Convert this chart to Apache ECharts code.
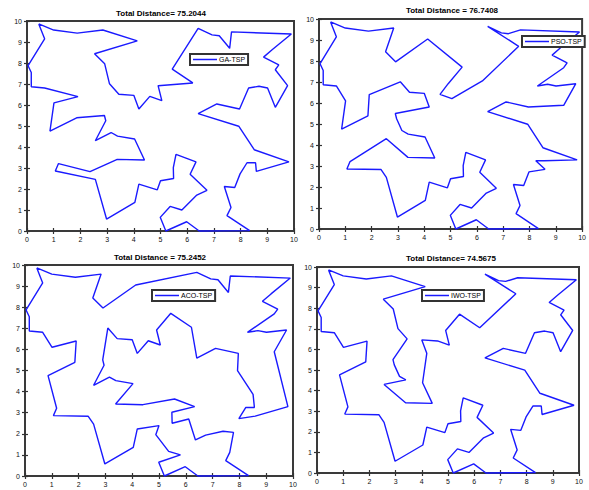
<!DOCTYPE html>
<html>
<head>
<meta charset="utf-8">
<script src="https://cdn.jsdelivr.net/npm/echarts@6/dist/echarts.min.js"></script>
<style>
  html, body { margin: 0; padding: 0; background: #fff; }
  #chart { width: 589px; height: 490px; }
</style>
</head>
<body>
<div id="chart"></div>
<script>
// City coordinates shared by all four tours (city n is at index n-1)
const cityX = [0.44, 1.00, 1.88, 2.84, 4.13, 2.53, 2.91, 3.09, 3.44, 4.00,
               4.19, 4.60, 5.05, 4.91, 6.21, 5.44, 6.41, 6.93, 7.20, 7.59,
               7.66, 9.90, 9.18, 8.86, 9.43, 9.30, 9.76, 9.30, 9.01, 8.69,
               8.30, 7.96, 7.11, 6.41, 7.93, 8.51, 9.81, 8.59, 8.56, 8.24,
               7.78, 7.39, 7.64, 7.49, 8.34, 6.45, 5.98, 5.20, 4.99, 5.36,
               5.80, 6.36, 6.74, 6.11, 6.33, 5.58, 5.49, 5.00, 4.88, 4.19,
               4.04, 2.98, 2.56, 1.06, 1.18, 2.36, 3.38, 4.40, 4.03, 3.39,
               3.15, 2.56, 2.90, 1.86, 0.86, 1.01, 1.91, 0.16, 0.16, 0.04,
               0.66, 0.66, 7.98, 5.48, 2.95];
const cityY = [9.86, 9.57, 9.42, 9.57, 9.05, 8.44, 7.96, 7.01, 6.51, 6.46,
               5.81, 6.41, 6.21, 6.92, 7.05, 7.71, 9.65, 9.34, 9.30, 8.70,
               9.48, 9.38, 8.63, 8.28, 7.91, 7.68, 6.92, 5.89, 6.81, 6.89,
               6.81, 5.81, 6.05, 5.59, 4.99, 3.87, 3.29, 2.84, 3.25, 3.25,
               2.07, 2.12, 1.12, 0.73, 0.02, 0.00, 0.44, 0.00, 0.65, 1.17,
               1.00, 1.71, 1.94, 2.70, 3.29, 3.65, 2.50, 2.39, 1.96, 2.23,
               1.36, 0.57, 2.46, 2.86, 3.21, 2.83, 3.41, 3.38, 4.38, 4.52,
               4.69, 4.30, 5.50, 5.39, 4.76, 6.10, 6.40, 6.87, 7.55, 7.87,
               9.15, 6.81, 2.72, 3.02, 5.25];

// Visiting order of each algorithm (1-based city numbers, tour closes on itself)
const gaTour = [1, 2, 3, 4, 5, 6, 7, 8, 9, 10, 11, 12, 13, 14, 15, 16, 17, 18, 19, 20,
                21, 22, 23, 24, 25, 26, 27, 28, 29, 30, 31, 32, 33, 34, 35, 36, 37, 38, 39, 40,
                83, 41, 42, 43, 44, 45, 46, 47, 48, 49, 50, 51, 52, 53, 54, 55, 56, 84, 57, 58,
                59, 60, 61, 62, 63, 64, 65, 66, 67, 68, 69, 70, 71, 72, 85, 73, 74, 75, 76, 77,
                82, 78, 79, 80, 81];
const psoTour = [1, 2, 3, 4, 6, 7, 5, 16, 14, 12, 13, 15, 20, 17, 18, 19, 21, 22, 23, 24,
                 25, 26, 31, 30, 29, 27, 28, 32, 33, 34, 35, 36, 37, 39, 40, 38, 83, 41, 42, 43,
                 44, 45, 46, 47, 48, 49, 50, 51, 52, 53, 54, 55, 56, 84, 57, 58, 59, 60, 61, 62,
                 63, 66, 64, 65, 72, 67, 68, 69, 70, 71, 85, 73, 11, 10, 9, 8, 77, 74, 75, 76,
                 82, 78, 79, 80, 81];
const acoTour = [1, 81, 80, 79, 78, 82, 76, 77, 74, 75, 65, 64, 66, 63, 62, 61, 60, 58, 59, 50,
                 51, 49, 48, 47, 46, 45, 44, 43, 41, 42, 53, 52, 54, 57, 84, 55, 56, 68, 67, 69,
                 70, 71, 72, 85, 73, 8, 9, 10, 11, 12, 13, 14, 16, 15, 34, 33, 32, 35, 36, 39,
                 40, 83, 38, 37, 28, 27, 29, 30, 31, 26, 25, 24, 23, 22, 21, 20, 19, 18, 17, 5,
                 7, 6, 4, 3, 2];
const iwoTour = [1, 81, 80, 79, 78, 82, 76, 77, 74, 75, 65, 64, 66, 63, 62, 61, 60, 59, 58, 57,
                 84, 56, 55, 54, 53, 52, 51, 50, 49, 48, 47, 46, 45, 44, 43, 42, 41, 83, 40, 39,
                 38, 37, 36, 35, 34, 33, 32, 31, 30, 29, 28, 27, 26, 25, 24, 23, 22, 21, 19, 18,
                 17, 20, 15, 16, 14, 13, 12, 10, 11, 69, 68, 67, 72, 70, 71, 85, 73, 9, 8, 7,
                 6, 5, 4, 3, 2];

const seriesNames = ['GA-TSP', 'PSO-TSP', 'ACO-TSP', 'IWO-TSP'];
const titleTexts = ['Total Distance= 75.2044', 'Total Distance = 76.7408',
                    'Total Distance = 75.2452', 'Total Distance= 74.5675'];
const tickLabels = ['0', '1', '2', '3', '4', '5', '6', '7', '8', '9', '10'];

const tours = [gaTour, psoTour, acoTour, iwoTour];

// Panel layout: plot boxes, title anchors and legend boxes
const panels = [
  { grid: { left: 27,  top: 21,  width: 267, height: 210 }, titleX: 161, titleY: 9,   legend: { left: 190, top: 54 } },
  { grid: { left: 319, top: 19,  width: 265, height: 210 }, titleX: 452, titleY: 6,   legend: { left: 522, top: 36 } },
  { grid: { left: 25,  top: 265, width: 268, height: 211 }, titleX: 160, titleY: 253, legend: { left: 152, top: 290 } },
  { grid: { left: 317, top: 267, width: 262, height: 206 }, titleX: 451, titleY: 254, legend: { left: 422, top: 290 } }
];

const FONT = '"Liberation Sans", Arial, sans-serif';
const BLUE = '#1a1aff';

function tickAxis(gridIndex, position, labels) {
  return {
    type: 'value', gridIndex: gridIndex, position: position,
    min: 0, max: 10, interval: 1,
    axisLine: { show: false },
    axisTick: { show: true, inside: true, length: 3, lineStyle: { color: '#333', width: 1.2 } },
    axisLabel: {
      show: labels, fontSize: 7, color: '#111', fontFamily: FONT,
      margin: position === 'bottom' ? 5 : 5,
      formatter: function (v) { return tickLabels[Math.round(v)]; }
    },
    splitLine: { show: false }
  };
}

const option = {
  backgroundColor: '#fff',
  animation: false,
  title: panels.map(function (p, i) {
    return {
      text: titleTexts[i], left: p.titleX, top: p.titleY, textAlign: 'center', padding: 0,
      textStyle: { fontSize: 8, fontWeight: 'bold', color: '#000', fontFamily: FONT }
    };
  }),
  grid: panels.map(function (p) {
    return Object.assign({ show: true, borderColor: '#3a3a3a', borderWidth: 2, backgroundColor: '#fff' }, p.grid);
  }),
  xAxis: [].concat.apply([], panels.map(function (p, i) {
    return [tickAxis(i, 'bottom', true), tickAxis(i, 'top', false)];
  })),
  yAxis: [].concat.apply([], panels.map(function (p, i) {
    return [tickAxis(i, 'left', true), tickAxis(i, 'right', false)];
  })),
  legend: panels.map(function (p, i) {
    return {
      data: [seriesNames[i]], left: p.legend.left, top: p.legend.top,
      orient: 'horizontal', padding: [2, 3, 2, 3],
      backgroundColor: '#fff', borderColor: '#333', borderWidth: 2,
      icon: 'rect', itemWidth: 24, itemHeight: 1.5, itemGap: 0,
      textStyle: { fontSize: 7, color: '#000', fontFamily: FONT, padding: [0, 0, 0, -3] }
    };
  }),
  series: tours.map(function (tour, i) {
    const closed = tour.concat([tour[0]]);
    return {
      name: seriesNames[i], type: 'line',
      xAxisIndex: i * 2, yAxisIndex: i * 2,
      showSymbol: false, symbol: 'none', clip: false,
      lineStyle: { color: BLUE, width: 1.4 },
      itemStyle: { color: BLUE },
      data: closed.map(function (k) { return [cityX[k - 1], cityY[k - 1]]; })
    };
  })
};

const chart = echarts.init(document.getElementById('chart'), null, { renderer: 'svg' });
chart.setOption(option);
</script>
</body>
</html>
